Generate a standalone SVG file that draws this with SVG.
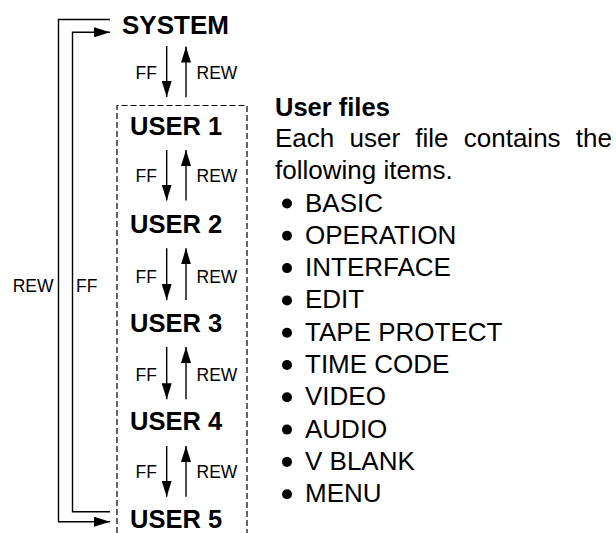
<svg xmlns="http://www.w3.org/2000/svg" width="616" height="533" viewBox="0 0 616 533">
<defs>
<marker id="ah" markerUnits="userSpaceOnUse" markerWidth="16" markerHeight="10" refX="16" refY="5" orient="auto">
<path d="M0,0 L16,5 L0,10 Z" fill="#000"/>
</marker>
<style>
.node{font-family:"Liberation Sans",Arial,Helvetica,sans-serif;font-weight:bold;font-size:25.5px;fill:#000}
.lbl{font-family:"Liberation Sans",Arial,Helvetica,sans-serif;font-size:17.5px;fill:#000}
.body{font-family:"Liberation Sans",Arial,Helvetica,sans-serif;font-size:26px;fill:#000}
.ln{stroke:#000;stroke-width:1.4;fill:none}
.arr{stroke:#000;stroke-width:1.4;fill:none;marker-end:url(#ah)}
.dash{stroke:#000;stroke-width:1.2;fill:none;stroke-dasharray:6 3}
</style>
</defs>
<rect width="616" height="533" fill="#fff"/>

<g id="user-group">
<path class="dash" d="M117,533 V105.5 H247 V533"/>
</g>

<g id="system"><text class="node" x="122" y="34" style="font-size:26px">SYSTEM</text></g>
<g id="user1"><text class="node" x="130" y="135">USER 1</text></g>
<g id="user2"><text class="node" x="130" y="233.3">USER 2</text></g>
<g id="user3"><text class="node" x="130" y="331.7">USER 3</text></g>
<g id="user4"><text class="node" x="130" y="430">USER 4</text></g>
<g id="user5"><text class="node" x="130" y="528.3">USER 5</text></g>

<g id="connectors">
<path class="arr" d="M166.7,46 V97"/>
<path class="arr" d="M186,97.3 V46.5"/>
<text class="lbl" x="157" y="79" text-anchor="end">FF</text>
<text class="lbl" x="196.5" y="79">REW</text>

<path class="arr" d="M166.7,150 V200.5"/>
<path class="arr" d="M186,200.5 V150"/>
<text class="lbl" x="157" y="182.3" text-anchor="end">FF</text>
<text class="lbl" x="196.5" y="182.3">REW</text>

<path class="arr" d="M166.7,248.3 V300"/>
<path class="arr" d="M186,300 V248.3"/>
<text class="lbl" x="157" y="283" text-anchor="end">FF</text>
<text class="lbl" x="196.5" y="283">REW</text>

<path class="arr" d="M166.7,347 V399.3"/>
<path class="arr" d="M186,399.3 V347"/>
<text class="lbl" x="157" y="380.7" text-anchor="end">FF</text>
<text class="lbl" x="196.5" y="380.7">REW</text>

<path class="arr" d="M166.7,446 V496.7"/>
<path class="arr" d="M186,496.7 V446"/>
<text class="lbl" x="157" y="478.3" text-anchor="end">FF</text>
<text class="lbl" x="196.5" y="478.3">REW</text>

<path class="arr" d="M110,19.5 H58.5 V521.7 H110"/>
<path class="arr" d="M110,511.7 H72.5 V32.3 H110"/>
<text class="lbl" x="53.5" y="292.3" text-anchor="end">REW</text>
<text class="lbl" x="76" y="292.3">FF</text>
</g>

<g id="user-files-text">
<text class="node" x="275" y="116">User files</text>
<text class="body" x="275" y="147" word-spacing="8">Each user file contains the</text>
<text class="body" x="275" y="179">following items.</text>
<g id="items">
<circle cx="287" cy="203.5" r="5"/><text class="body" x="305" y="211.5">BASIC</text>
<circle cx="287" cy="235.8" r="5"/><text class="body" x="305" y="243.8">OPERATION</text>
<circle cx="287" cy="268.1" r="5"/><text class="body" x="305" y="276.1">INTERFACE</text>
<circle cx="287" cy="300.4" r="5"/><text class="body" x="305" y="308.4">EDIT</text>
<circle cx="287" cy="332.7" r="5"/><text class="body" x="305" y="340.7">TAPE PROTECT</text>
<circle cx="287" cy="365" r="5"/><text class="body" x="305" y="373">TIME CODE</text>
<circle cx="287" cy="397.3" r="5"/><text class="body" x="305" y="405.3">VIDEO</text>
<circle cx="287" cy="429.6" r="5"/><text class="body" x="305" y="437.6">AUDIO</text>
<circle cx="287" cy="461.9" r="5"/><text class="body" x="305" y="469.9">V BLANK</text>
<circle cx="287" cy="494.2" r="5"/><text class="body" x="305" y="502.2">MENU</text>
</g>
</g>
</svg>
